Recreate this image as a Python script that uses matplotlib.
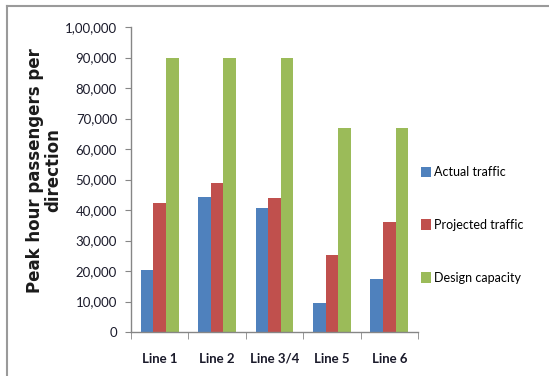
import numpy as np
import matplotlib.pyplot as plt
from matplotlib.patches import Patch
from matplotlib.lines import Line2D
from matplotlib.ticker import FuncFormatter

# ===== DATOS =====
lineas = ["Line 1", "Line 2", "Line 3/4", "Line 5", "Line 6"]
trafico_actual = [20300, 44300, 40800, 9400, 17300]
trafico_proyectado = [42400, 49000, 44000, 25300, 36000]
capacidad_diseno = [90000, 90000, 90000, 67000, 67000]

series = ["Actual traffic", "Projected traffic", "Design capacity"]
colores = ["#4F81BD", "#C0504D", "#9BBB59"]


# formato indio de miles: 1,00,000
def formato_indio(v, pos):
    v = int(round(v))
    s = str(v)
    if len(s) <= 3:
        return s
    ult = s[-3:]
    resto = s[:-3]
    grupos = []
    while len(resto) > 2:
        grupos.insert(0, resto[-2:])
        resto = resto[:-2]
    if resto:
        grupos.insert(0, resto)
    return ",".join(grupos + [ult])


# ===== FIGURA =====
fig = plt.figure(figsize=(5.49, 3.76), dpi=100)
ax = fig.add_axes([131 / 549, 1 - 332 / 376, 287 / 549, 305 / 376])

x = np.arange(len(lineas))
ancho = 0.22
datos = [trafico_actual, trafico_proyectado, capacidad_diseno]
for i, (vals, col) in enumerate(zip(datos, colores)):
    ax.bar(x + (i - 1) * ancho, vals, width=ancho, color=col, edgecolor="none")

ax.set_xlim(-0.5, len(lineas) - 0.5)
ax.set_ylim(0, 100000)
ax.set_yticks(np.arange(0, 100001, 10000))
ax.yaxis.set_major_formatter(FuncFormatter(formato_indio))

ax.set_xticks(x)
ax.set_xticklabels(lineas, fontfamily="Lato", fontweight="bold", fontsize=9.5)
ax.set_xticks(np.arange(-0.5, len(lineas)), minor=True)
ax.tick_params(axis="x", which="major", length=0, pad=15)
ax.tick_params(axis="x", which="minor", length=5, color="#868686", direction="out")
ax.tick_params(axis="y", length=4, color="#868686", direction="out", pad=6)
for lab in ax.get_yticklabels():
    lab.set_fontfamily("Lato")
    lab.set_fontsize(9.5)
    lab.set_color("#1b1b2b")
for lab in ax.get_xticklabels():
    lab.set_color("#1b1b2b")

for lado in ["top", "right"]:
    ax.spines[lado].set_visible(False)
for lado in ["left", "bottom"]:
    ax.spines[lado].set_color("#868686")
    ax.spines[lado].set_linewidth(1.0)

ax.set_ylabel("Peak hour passengers per\ndirection", fontfamily="DejaVu Sans",
              fontweight="bold", fontsize=12, linespacing=1.0,
              multialignment="center", color="#1b1b1b")
ax.yaxis.set_label_coords(-0.24, 0.53)

# leyenda
manijas = [Patch(facecolor=c, edgecolor="none") for c in colores]
fig.legend(manijas, series, loc="upper left", bbox_to_anchor=(410 / 549, 1 - 155 / 376),
           frameon=False, prop={"family": "Lato", "size": 9},
           handlelength=0.8, handleheight=0.95, handletextpad=0.25,
           labelspacing=3.27)

# marco exterior
fig.add_artist(Line2D([7 / 549, 1], [1 - 6 / 376, 1 - 6 / 376], color="#9a9a9a",
                      lw=1.5, transform=fig.transFigure))
fig.add_artist(Line2D([7 / 549, 7 / 549], [0, 1 - 6 / 376], color="#9a9a9a",
                      lw=1.5, transform=fig.transFigure))

fig.savefig("out.png", dpi=100)
